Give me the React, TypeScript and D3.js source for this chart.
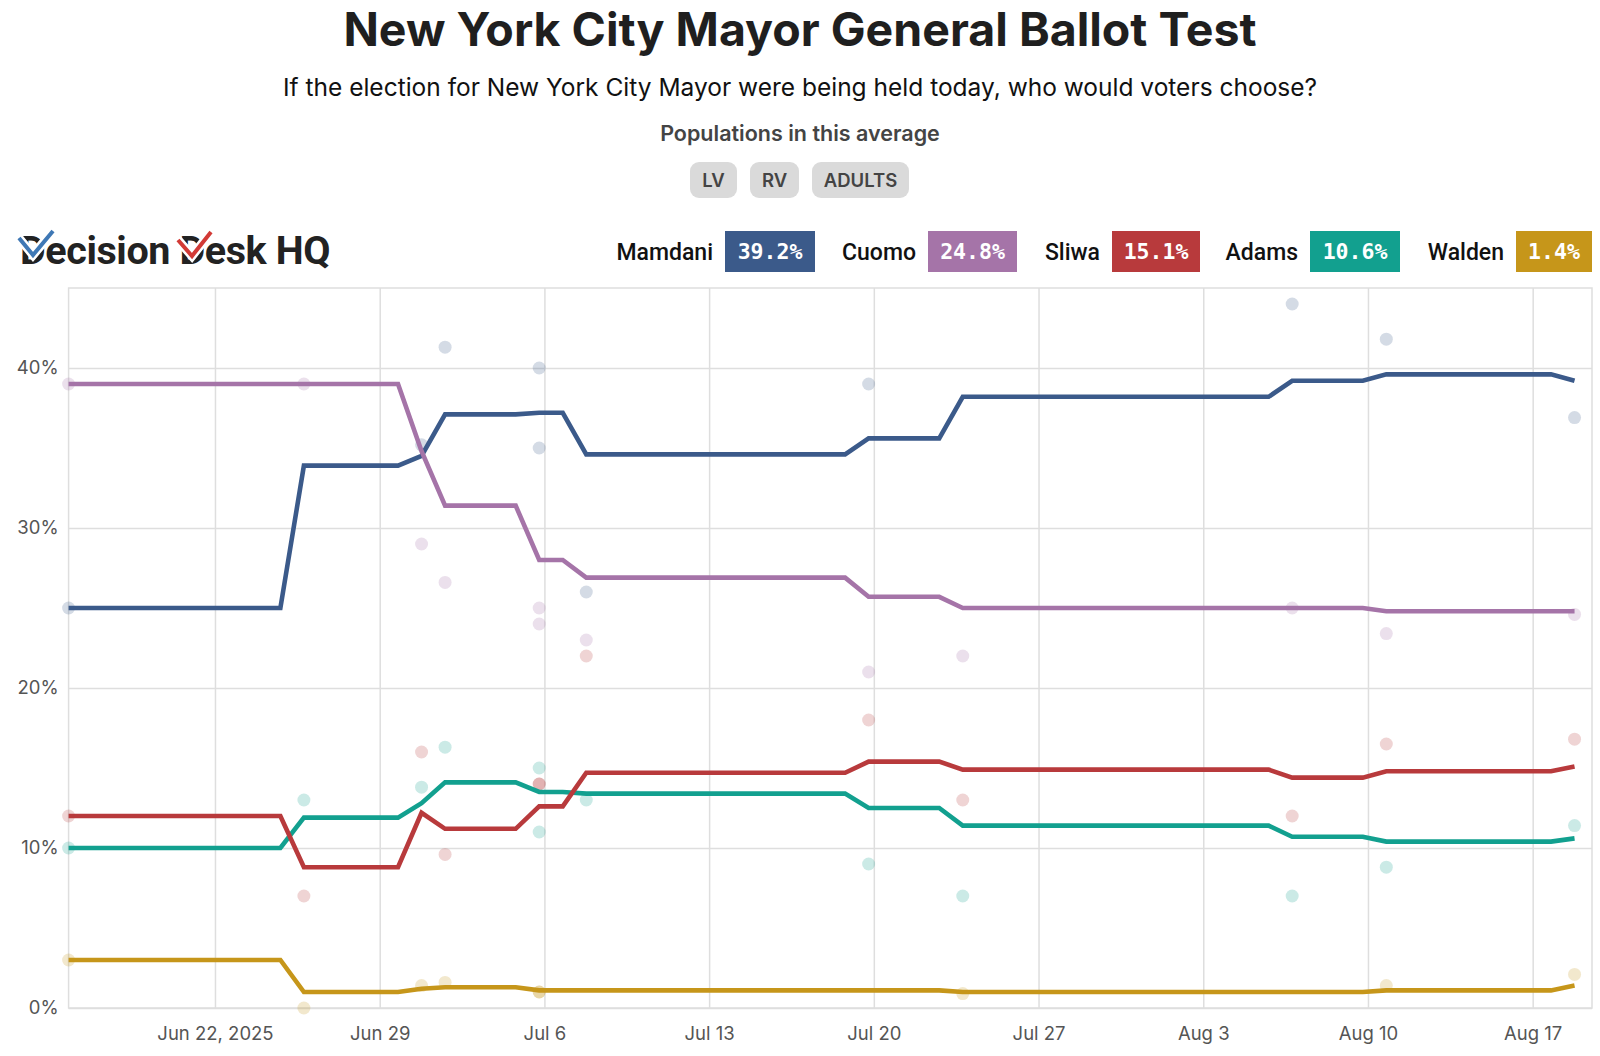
import React, { useEffect, useMemo, useRef } from "react";
import * as d3 from "d3";

const WIDTH = 1600;
const HEIGHT = 1056;
const MARGIN = { top: 288, right: 8, bottom: 48, left: 68.6 };

const FONT = "Inter, 'Noto Sans', sans-serif";

const candidates = ["Mamdani", "Cuomo", "Sliwa", "Adams", "Walden"];
const colors = ["#3b5a8a", "#a574a8", "#b83a3c", "#12a08f", "#c6961a"];
const latest = ["39.2%", "24.8%", "15.1%", "10.6%", "1.4%"];

const populations = ["LV", "RV", "ADULTS"];

// polling average, vertices of the trend line
const mamdaniTrend: [string, number][] = [
  ["2025-06-16", 25], ["2025-06-25", 25], ["2025-06-26", 33.9], ["2025-06-30", 33.9],
  ["2025-07-01", 34.5], ["2025-07-02", 37.1], ["2025-07-05", 37.1], ["2025-07-06", 37.2],
  ["2025-07-07", 37.2], ["2025-07-08", 34.6], ["2025-07-19", 34.6], ["2025-07-20", 35.6],
  ["2025-07-23", 35.6], ["2025-07-24", 38.2], ["2025-08-06", 38.2], ["2025-08-07", 39.2],
  ["2025-08-10", 39.2], ["2025-08-11", 39.6], ["2025-08-18", 39.6], ["2025-08-19", 39.2],
];
const cuomoTrend: [string, number][] = [
  ["2025-06-16", 39], ["2025-06-30", 39], ["2025-07-01", 34.8], ["2025-07-02", 31.4],
  ["2025-07-05", 31.4], ["2025-07-06", 28.0], ["2025-07-07", 28.0], ["2025-07-08", 26.9],
  ["2025-07-19", 26.9], ["2025-07-20", 25.7], ["2025-07-23", 25.7], ["2025-07-24", 25.0],
  ["2025-08-10", 25.0], ["2025-08-11", 24.8], ["2025-08-19", 24.8],
];
const sliwaTrend: [string, number][] = [
  ["2025-06-16", 12], ["2025-06-25", 12], ["2025-06-26", 8.8], ["2025-06-30", 8.8],
  ["2025-07-01", 12.2], ["2025-07-02", 11.2], ["2025-07-05", 11.2], ["2025-07-06", 12.6],
  ["2025-07-07", 12.6], ["2025-07-08", 14.7], ["2025-07-19", 14.7], ["2025-07-20", 15.4],
  ["2025-07-23", 15.4], ["2025-07-24", 14.9], ["2025-08-06", 14.9], ["2025-08-07", 14.4],
  ["2025-08-10", 14.4], ["2025-08-11", 14.8], ["2025-08-18", 14.8], ["2025-08-19", 15.1],
];
const adamsTrend: [string, number][] = [
  ["2025-06-16", 10], ["2025-06-25", 10], ["2025-06-26", 11.9], ["2025-06-30", 11.9],
  ["2025-07-01", 12.8], ["2025-07-02", 14.1], ["2025-07-05", 14.1], ["2025-07-06", 13.5],
  ["2025-07-07", 13.5], ["2025-07-08", 13.4], ["2025-07-19", 13.4], ["2025-07-20", 12.5],
  ["2025-07-23", 12.5], ["2025-07-24", 11.4], ["2025-08-06", 11.4], ["2025-08-07", 10.7],
  ["2025-08-10", 10.7], ["2025-08-11", 10.4], ["2025-08-18", 10.4], ["2025-08-19", 10.6],
];
const waldenTrend: [string, number][] = [
  ["2025-06-16", 3], ["2025-06-25", 3], ["2025-06-26", 1.0], ["2025-06-30", 1.0],
  ["2025-07-01", 1.2], ["2025-07-02", 1.3], ["2025-07-05", 1.3], ["2025-07-06", 1.1],
  ["2025-07-23", 1.1], ["2025-07-24", 1.0], ["2025-08-10", 1.0], ["2025-08-11", 1.1],
  ["2025-08-18", 1.1], ["2025-08-19", 1.4],
];

// individual polls
const pollDates = [
  "2025-06-16", "2025-06-26", "2025-07-01", "2025-07-02", "2025-07-06", "2025-07-06",
  "2025-07-08", "2025-07-20", "2025-07-24", "2025-08-07", "2025-08-11", "2025-08-19",
];
const mamdaniPolls = [25, null, 35.2, 41.3, 40, 35, 26, 39, null, 44, 41.8, 36.9];
const cuomoPolls = [39, 39, 29, 26.6, 25, 24, 23, 21, 22, 25, 23.4, 24.6];
const sliwaPolls = [12, 7, 16, 9.6, 14, 14, 22, 18, 13, 12, 16.5, 16.8];
const adamsPolls = [10, 13, 13.8, 16.3, 15, 11, 13, 9, 7, 7, 8.8, 11.4];
const waldenPolls = [3, 0, 1.4, 1.6, 1, 1, null, null, 0.9, null, 1.4, 2.1];

const trends = [mamdaniTrend, cuomoTrend, sliwaTrend, adamsTrend, waldenTrend];
const polls = [mamdaniPolls, cuomoPolls, sliwaPolls, adamsPolls, waldenPolls];

const xTicks = ["2025-06-22", "2025-06-29", "2025-07-06", "2025-07-13", "2025-07-20",
  "2025-07-27", "2025-08-03", "2025-08-10", "2025-08-17"];
const yTicks = [0, 10, 20, 30, 40];

const parse = d3.timeParse("%Y-%m-%d");
// poll dates sit a few hours before local midnight on the chart
const shift = (s: string) => d3.timeMinute.offset(parse(s) as Date, -318);

// legend layout (badge left x, badge width)
const LEGEND = [
  { x: 725, w: 90 }, { x: 928, w: 89 }, { x: 1112, w: 88 }, { x: 1310, w: 90 }, { x: 1516, w: 76 },
];
const PILLS = [{ x: 690, w: 47 }, { x: 750, w: 49 }, { x: 812, w: 97 }];

const App = () => {
  const xAxisRef = useRef<SVGGElement>(null);
  const yAxisRef = useRef<SVGGElement>(null);

  const boundsWidth = WIDTH - MARGIN.left - MARGIN.right;
  const boundsHeight = HEIGHT - MARGIN.top - MARGIN.bottom;

  const xScale = useMemo(() => {
    return d3
      .scaleTime()
      .domain([new Date(2025, 5, 15, 18, 42), new Date(2025, 7, 19, 12, 30)])
      .range([0, boundsWidth]);
  }, []);

  const yScale = useMemo(() => {
    return d3.scaleLinear().domain([0, 45]).range([boundsHeight, 0]);
  }, []);

  const line = d3
    .line<[string, number]>()
    .x((d) => xScale(shift(d[0])))
    .y((d) => yScale(d[1]));

  useEffect(() => {
    const fmt = d3.timeFormat("%b %-d");
    const xAxis = d3
      .axisBottom(xScale)
      .tickValues(xTicks.map((s) => parse(s) as Date))
      .tickSize(-boundsHeight)
      .tickPadding(19)
      .tickFormat((d, i) => (i === 0 ? d3.timeFormat("%b %-d, %Y")(d as Date) : fmt(d as Date)));
    const gx = d3.select(xAxisRef.current);
    gx.selectAll("*").remove();
    gx.call(xAxis);
    gx.select(".domain").remove();
    gx.selectAll(".tick line").attr("stroke", "#dedede").attr("stroke-width", 1.5);
    gx.selectAll(".tick text")
      .attr("fill", "#555")
      .style("font-family", FONT)
      .style("font-size", "18.5px");

    const yAxis = d3
      .axisLeft(yScale)
      .tickValues(yTicks)
      .tickSize(-boundsWidth)
      .tickPadding(10)
      .tickFormat((d) => `${d}%`);
    const gy = d3.select(yAxisRef.current);
    gy.selectAll("*").remove();
    gy.call(yAxis);
    gy.select(".domain").remove();
    gy.selectAll(".tick line").attr("stroke", "#dedede").attr("stroke-width", 1.5);
    gy.selectAll(".tick text")
      .attr("fill", "#555")
      .style("font-family", FONT)
      .style("font-size", "18.5px");
  }, []);

  const drawOrder = [4, 3, 2, 0, 1];

  return (
    <svg
      width={WIDTH}
      height={HEIGHT}
      style={{ position: "absolute", left: 0, top: 0, background: "#fff" }}
    >
      <text x={800} y={46} textAnchor="middle" fontFamily={FONT} fontWeight={700}
        fontSize={46.5} fill="#1f1f1f">
        New York City Mayor General Ballot Test
      </text>
      <text x={800} y={96} textAnchor="middle" fontFamily={FONT} fontSize={24.5} fill="#111">
        If the election for New York City Mayor were being held today, who would voters choose?
      </text>
      <text x={800} y={141} textAnchor="middle" fontFamily={FONT} fontWeight={600}
        fontSize={21.5} fill="#444">
        Populations in this average
      </text>
      {populations.map((p, i) => {
        const pos = PILLS[i];
        return (
          <g key={p}>
            <rect x={pos.x} y={162} width={pos.w} height={36} rx={9} fill="#dadada" />
            <text x={pos.x + pos.w / 2} y={187} textAnchor="middle" fontFamily={FONT}
              fontWeight={600} fontSize={18.5} fill="#444">
              {p}
            </text>
          </g>
        );
      })}

      {/* logo */}
      <g>
        <text x={20} y={264} fontFamily="Roboto, sans-serif" fontWeight={700} fontSize={39.5}
          fill="#222" letterSpacing={-0.4}>
          Decision Desk HQ
        </text>
        <path d="M19,238 L33,255 L53,231" fill="none" stroke="#fff" strokeWidth={9} />
        <path d="M19,238 L33,255 L53,231" fill="none" stroke="#3f78b5" strokeWidth={4} />
        <path d="M178,240 L192,256 L211,232" fill="none" stroke="#fff" strokeWidth={9} />
        <path d="M178,240 L192,256 L211,232" fill="none" stroke="#d23a36" strokeWidth={4} />
      </g>

      {/* legend */}
      {candidates.map((c, i) => (
        <g key={c}>
          <text x={LEGEND[i].x - 12} y={260} textAnchor="end" fontFamily="Roboto, sans-serif"
            fontWeight={500} fontSize={23} fill="#111">
            {c}
          </text>
          <rect x={LEGEND[i].x} y={231} width={LEGEND[i].w} height={41} fill={colors[i]} />
          <text x={LEGEND[i].x + LEGEND[i].w / 2} y={259} textAnchor="middle"
            fontFamily="'DejaVu Sans Mono', monospace" fontWeight={700} fontSize={21.5} fill="#fff">
            {latest[i]}
          </text>
        </g>
      ))}

      <g transform={`translate(${MARGIN.left},${MARGIN.top})`}>
        <g ref={xAxisRef} transform={`translate(0,${boundsHeight})`} />
        <g ref={yAxisRef} />
        <rect x={0} y={0} width={boundsWidth} height={boundsHeight} fill="none"
          stroke="#dedede" strokeWidth={1.5} />

        {polls.map((vals, i) => (
          <g key={candidates[i]} fill={colors[i]} fillOpacity={0.22}>
            {vals.map((v, j) =>
              v === null ? null : (
                <circle key={j} cx={xScale(shift(pollDates[j]))} cy={yScale(v)} r={6.5} />
              )
            )}
          </g>
        ))}

        {drawOrder.map((i) => (
          <path key={candidates[i]} d={line(trends[i]) || ""} fill="none" stroke={colors[i]}
            strokeWidth={4.6} strokeLinejoin="miter" />
        ))}
      </g>
    </svg>
  );
};

export default App;
